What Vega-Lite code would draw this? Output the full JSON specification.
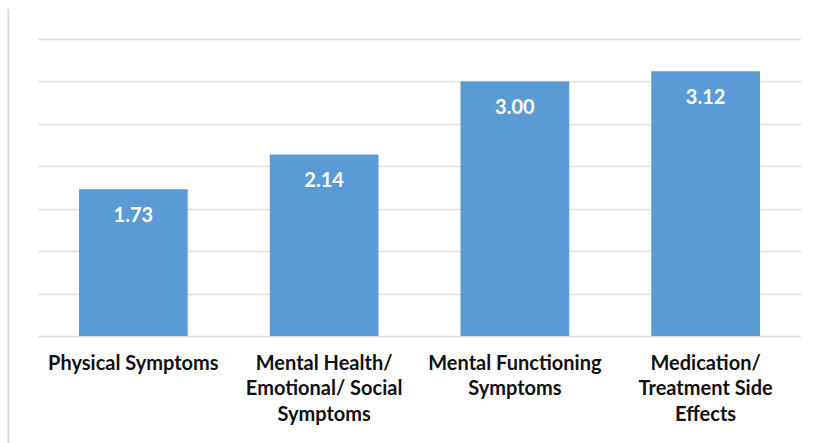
{
  "$schema": "https://vega.github.io/schema/vega-lite/v6.json",
  "autosize": {"type": "none"},
  "padding": {"left": 38, "top": 8, "right": 0, "bottom": 0},
  "width": 763,
  "height": 435,
  "background": "white",
  "config": {"view": {"stroke": null}},
  "data": {
    "values": [
      {"category": "Physical Symptoms", "score": 1.73},
      {"category": "Mental Health/|Emotional/ Social|Symptoms", "score": 2.14},
      {"category": "Mental Functioning|Symptoms", "score": 3.00},
      {"category": "Medication/|Treatment Side|Effects", "score": 3.12}
    ]
  },
  "encoding": {
    "x": {
      "field": "category",
      "type": "nominal",
      "sort": null,
      "scale": {"paddingInner": 0.43, "paddingOuter": 0.215},
      "axis": {
        "title": null,
        "orient": "bottom",
        "offset": -107,
        "domain": false,
        "ticks": false,
        "labelAngle": 0,
        "labelPadding": 17,
        "labelFont": "Lato",
        "labelFontWeight": "bold",
        "labelFontSize": 20,
        "labelColor": "#111111",
        "labelLineHeight": 25.5,
        "labelBaseline": "top",
        "labelExpr": "split(datum.label, '|')"
      }
    },
    "y": {
      "field": "score",
      "type": "quantitative",
      "scale": {"domain": [-1.2588, 3.8647], "nice": false, "zero": false},
      "axis": {
        "title": null,
        "orient": "left",
        "offset": 30,
        "labels": false,
        "ticks": false,
        "domain": true,
        "domainColor": "#dcdcdc",
        "domainWidth": 2,
        "grid": true,
        "gridColor": "#dedede",
        "gridWidth": 1.6,
        "values": [0, 0.5, 1, 1.5, 2, 2.5, 3, 3.5]
      }
    }
  },
  "layer": [
    {
      "mark": {"type": "bar", "color": "#5b9bd5"},
      "encoding": {"y2": {"datum": 0}}
    },
    {
      "mark": {
        "type": "text",
        "color": "white",
        "font": "Lato",
        "fontWeight": "bold",
        "fontSize": 20,
        "baseline": "middle",
        "dy": 27
      },
      "encoding": {
        "text": {"field": "score", "type": "quantitative", "format": ".2f"}
      }
    }
  ]
}
